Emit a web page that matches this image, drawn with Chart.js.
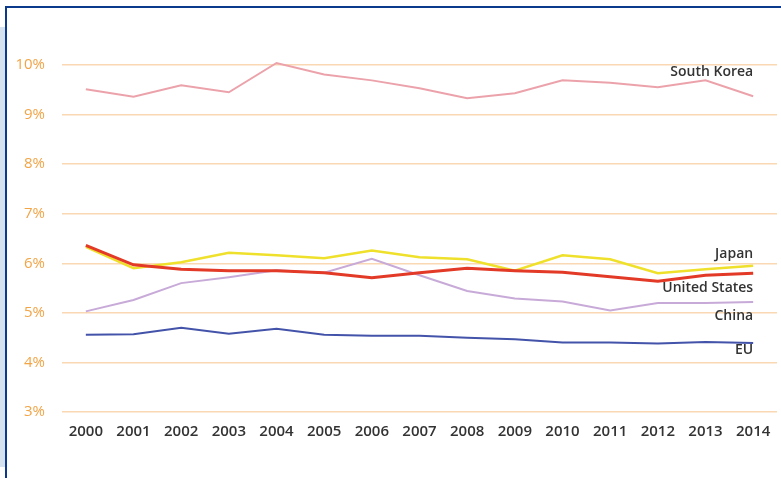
<!DOCTYPE html>
<html>
<head>
<meta charset="utf-8">
<script src="https://cdn.jsdelivr.net/npm/chart.js@4.4.1/dist/chart.umd.min.js"></script>
<style>
    html, body { margin: 0; padding: 0; background: #fff; }
    body { width: 781px; height: 478px; position: relative; overflow: hidden; font-family: 'Open Sans', sans-serif; }
    .side { position: absolute; left: 0; top: 27px; width: 5px; height: 440px; background: #d3e2ee; }
    .frame { position: absolute; left: 5px; top: 6px; right: -10px; bottom: -10px; border-top: 2px solid #0b3a8c; border-left: 2px solid #0b3a8c; }
    #wrap { position: absolute; left: 0; top: 0; width: 781px; height: 478px; }
</style>
</head>
<body>
<div class="side"></div>
<div class="frame"></div>
<div id="wrap"><canvas id="rd-chart"></canvas></div>
<script>
// R&D expenditure share, 2000-2014
const years = ['2000', '2001', '2002', '2003', '2004', '2005', '2006', '2007', '2008', '2009', '2010', '2011', '2012', '2013', '2014'];
const seriesNames = ['South Korea', 'United States', 'Japan', 'China', 'EU'];
const southKorea = [9.51, 9.36, 9.59, 9.45, 10.04, 9.81, 9.69, 9.53, 9.33, 9.43, 9.69, 9.64, 9.55, 9.69, 9.37];
const unitedStates = [6.36, 5.97, 5.88, 5.85, 5.85, 5.81, 5.71, 5.81, 5.90, 5.85, 5.82, 5.73, 5.64, 5.76, 5.80];
const japan = [6.33, 5.90, 6.02, 6.21, 6.16, 6.10, 6.26, 6.12, 6.08, 5.85, 6.16, 6.08, 5.80, 5.88, 5.95];
const china = [5.03, 5.26, 5.60, 5.72, 5.86, 5.81, 6.09, 5.76, 5.44, 5.29, 5.23, 5.05, 5.20, 5.20, 5.22];
const eu = [4.56, 4.57, 4.70, 4.58, 4.68, 4.56, 4.54, 4.54, 4.50, 4.47, 4.40, 4.40, 4.38, 4.41, 4.39];
const yTicks = [3, 4, 5, 6, 7, 8, 9, 10];

const colors = ['#eca2aa', '#e23a26', '#efe02c', '#c8aad8', '#4353a9'];
const widths = [2, 3, 2.5, 2, 2];
const labelOffsets = [-24, 15, -12, 14, 7];

document.addEventListener('DOMContentLoaded', function() {
    const ctx = document.getElementById('rd-chart');
    const values = [southKorea, unitedStates, japan, china, eu];

    // names written at the end of each line
    const endLabels = {
        id: 'endLabels',
        afterDatasetsDraw(chart) {
            const c = chart.ctx;
            c.save();
            c.font = '600 14px "Open Sans"';
            c.fillStyle = '#333';
            c.textAlign = 'right';
            c.textBaseline = 'middle';
            chart.data.datasets.forEach(function(ds, i) {
                const meta = chart.getDatasetMeta(i);
                const last = meta.data[meta.data.length - 1];
                c.fillText(ds.label, last.x, last.y + labelOffsets[i]);
            });
            c.restore();
        }
    };

    new Chart(ctx, {
        type: 'line',
        data: {
            labels: years,
            datasets: seriesNames.map(function(name, i) {
                return {
                    label: name,
                    data: values[i],
                    borderColor: colors[i],
                    borderWidth: widths[i],
                    pointRadius: 0,
                    tension: 0,
                    fill: false,
                    clip: false
                };
            })
        },
        options: {
            responsive: true,
            maintainAspectRatio: false,
            animation: false,
            layout: {
                padding: { left: 15, right: 4, top: 65, bottom: 34 }
            },
            plugins: {
                legend: { display: false },
                tooltip: { enabled: false }
            },
            scales: {
                y: {
                    min: 3,
                    max: 10,
                    afterBuildTicks: function(axis) {
                        axis.ticks = yTicks.map(function(v) { return { value: v }; });
                    },
                    afterFit: function(axis) {
                        axis.width = 47;
                    },
                    border: { display: false },
                    grid: {
                        color: '#f9d8b3',
                        lineWidth: 1.5,
                        drawTicks: false
                    },
                    ticks: {
                        padding: 17,
                        color: '#f2a446',
                        font: { family: 'Open Sans', size: 15 },
                        callback: function(v) { return v + '%'; }
                    }
                },
                x: {
                    offset: true,
                    border: { display: false },
                    grid: { display: false },
                    ticks: {
                        padding: 3,
                        maxRotation: 0,
                        autoSkip: false,
                        color: '#333',
                        font: { family: 'Open Sans', size: 15, weight: '600' }
                    }
                }
            }
        },
        plugins: [endLabels]
    });
});
</script>
</body>
</html>
